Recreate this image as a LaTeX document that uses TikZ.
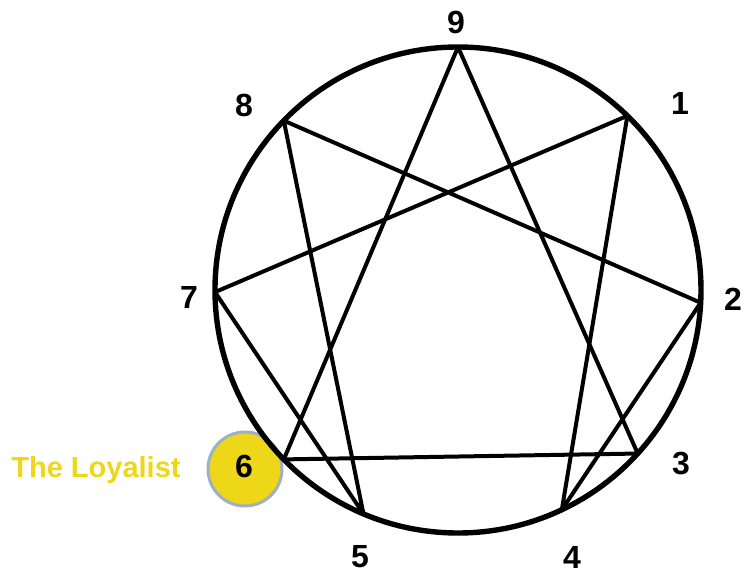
\documentclass[tikz,border=0pt]{standalone}
\usepackage{fontspec}
\setmainfont{Liberation Sans}
\usetikzlibrary{positioning, calc}
\definecolor{cyellow}{HTML}{EED718}
\definecolor{cring}{HTML}{9DB0C6}
\tikzset{
  every picture/.style={font=\bfseries},
  num/.style={font=\fontsize{16}{18}\selectfont\bfseries, inner sep=0pt},
  ring/.style={draw=black, line width=2.7pt},
  chord/.style={draw=black, line width=2pt, line join=round},
  badge/.style={circle, draw=cring, fill=cyellow, line width=1.5pt, minimum size=37pt, inner sep=0pt},
}
\begin{document}
\begin{tikzpicture}[x=0.5pt, y=0.5pt]
  \useasboundingbox (-458,290) rectangle (294,-285);
  % the highlighted point
  \node[badge] (b6) at (-213,-179) {};
  \node[font=\fontsize{14.5}{16}\selectfont\bfseries, text=cyellow] (name) at (-362,-180) {The Loyalist};
  % circle and points on it
  \draw[ring] (0,0) circle (243);
  \foreach \n/\a in {9/90, 1/45.8, 2/-3, 3/-42.3, 4/-64.7, 5/247.1, 6/224.2, 7/180.5, 8/135.8} {
    \coordinate (v\n) at (\a:243);
  }
  % numbers
  \foreach \n/\x/\y in {9/-2/268, 1/222/187, 2/275/-9, 3/223/-174, 4/114/-267, 5/-98/-267, 6/-214/-176, 7/-269/-7, 8/-214/185} {
    \node[num] (l\n) at (\x,\y) {\n};
  }
  % triangle and hexad
  \draw[chord] (v9) -- (v3) -- (v6) -- cycle;
  \draw[chord] (v1) -- (v4) -- (v2) -- (v8) -- (v5) -- (v7) -- cycle;
\end{tikzpicture}
\end{document}
